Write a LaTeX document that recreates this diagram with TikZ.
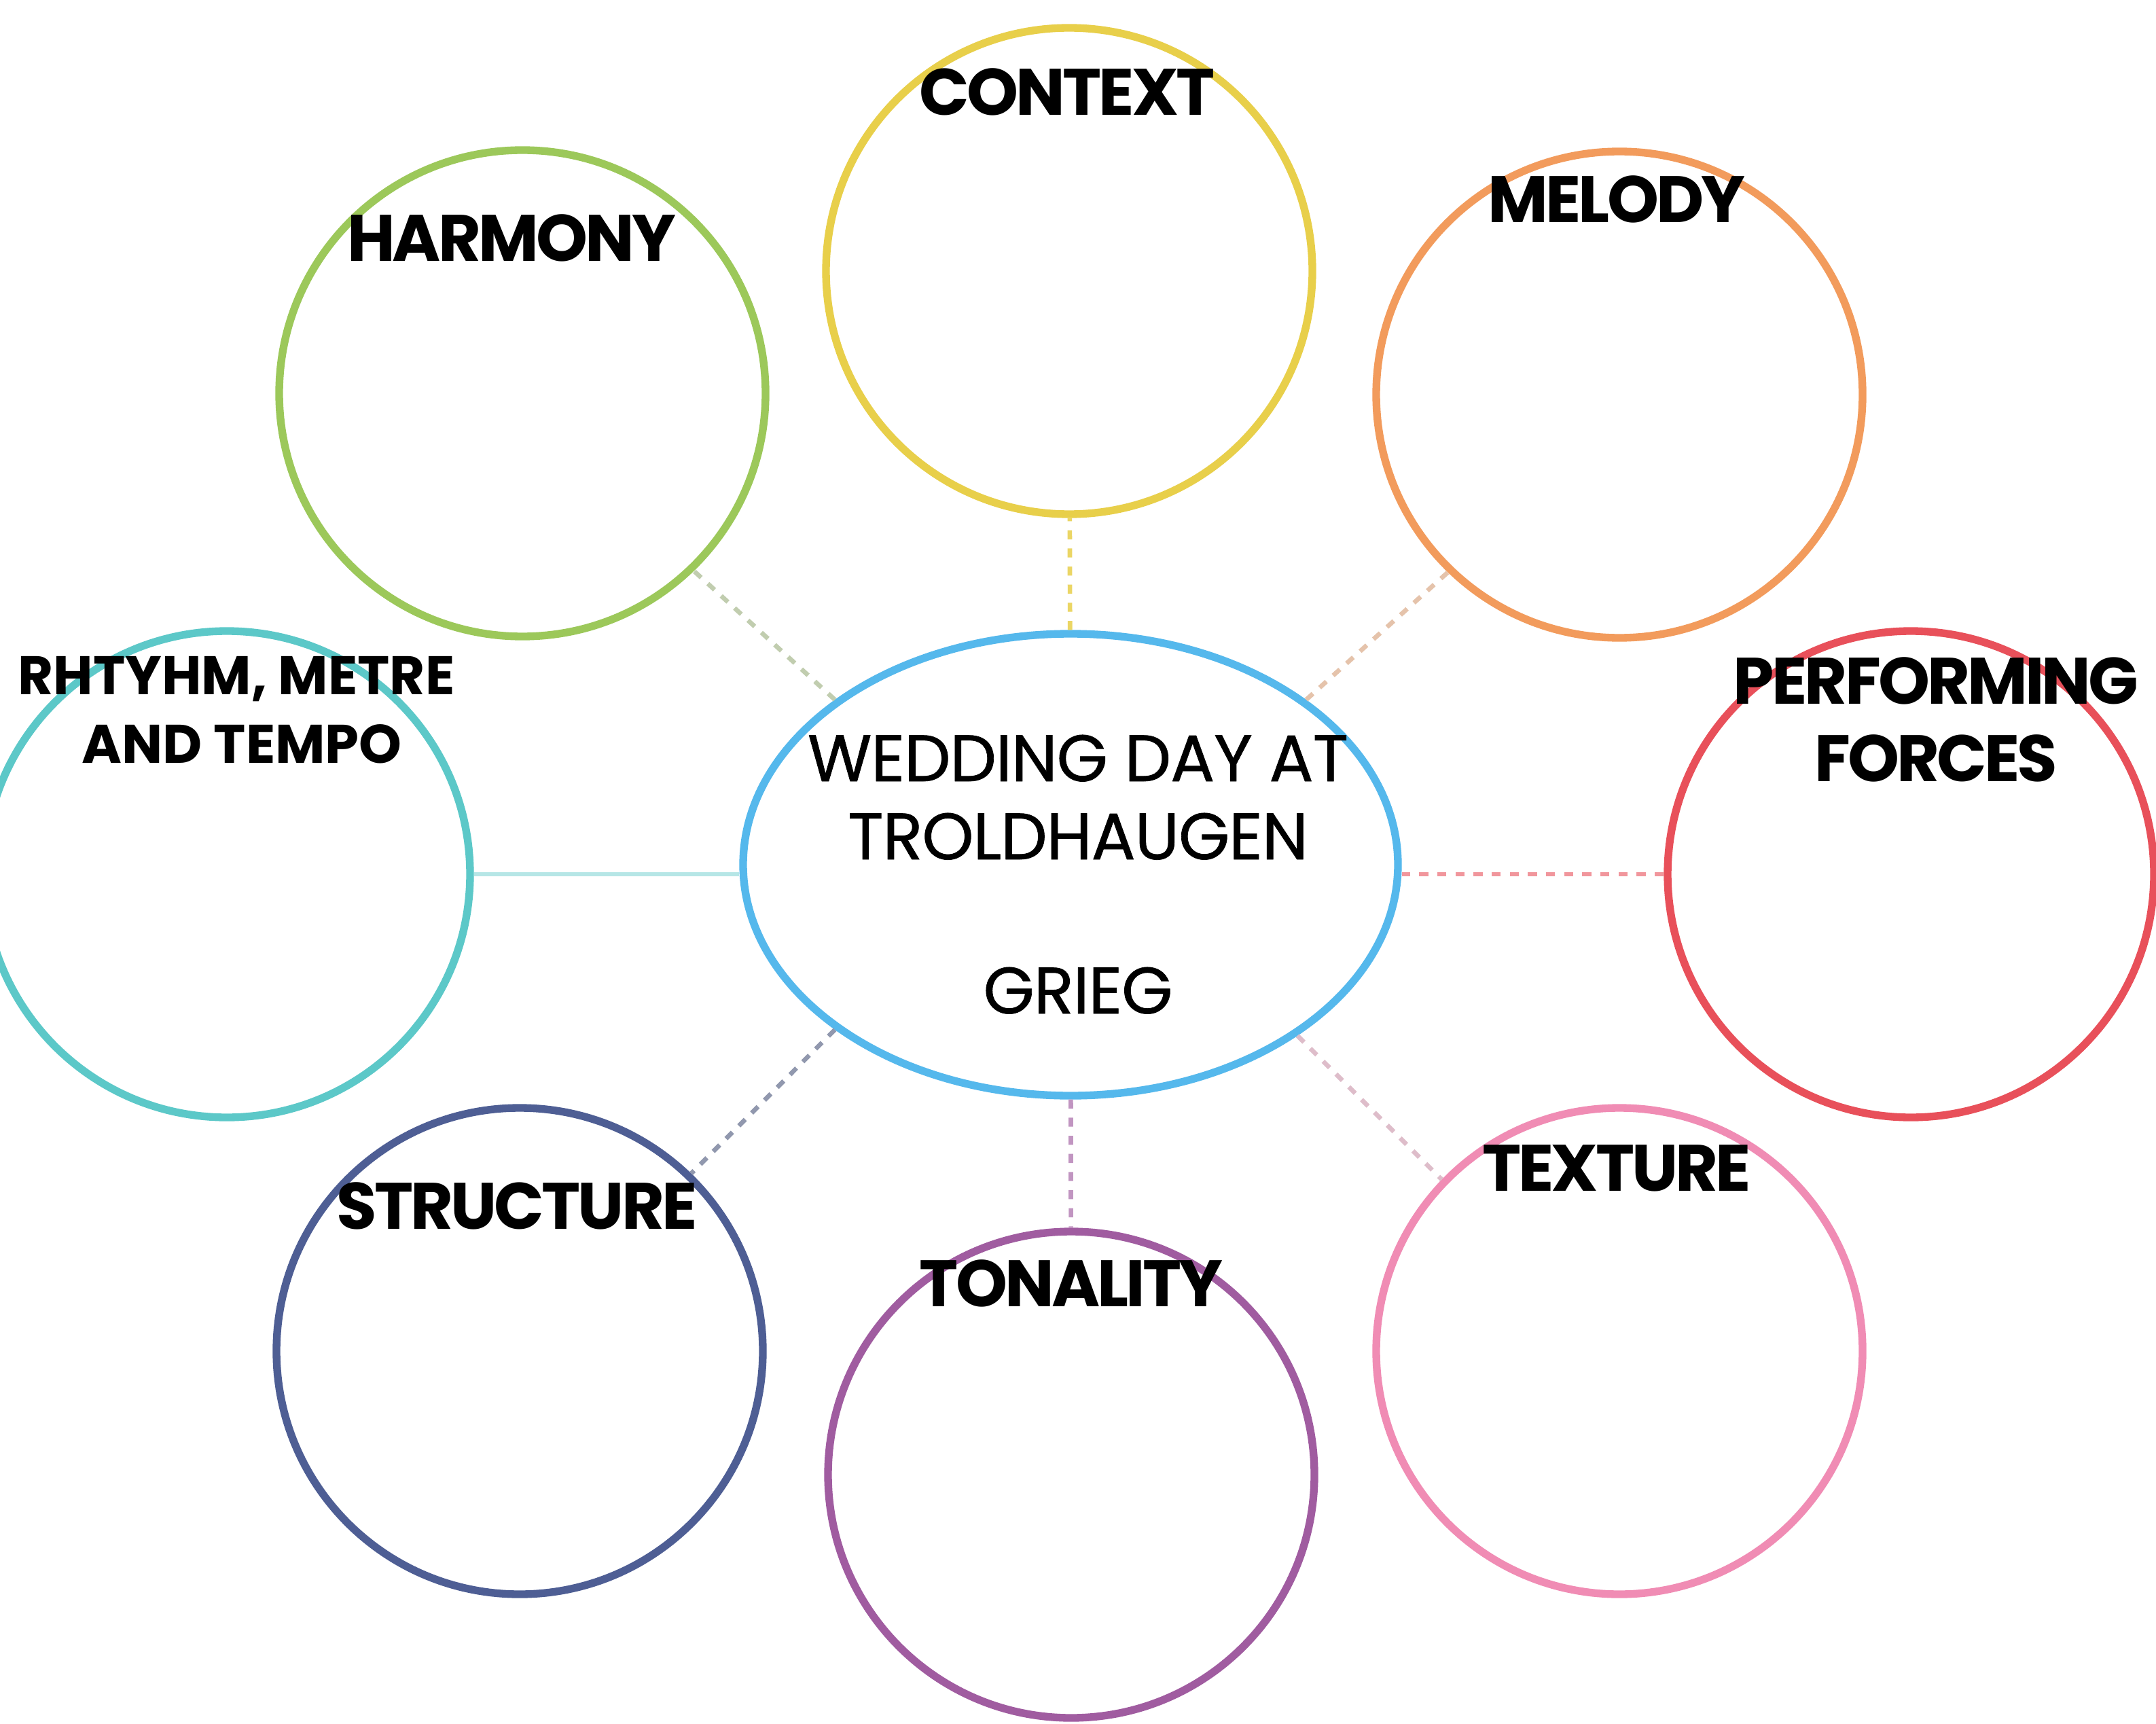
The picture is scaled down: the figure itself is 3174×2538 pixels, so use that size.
\documentclass[tikz,border=0pt]{standalone}
\usepackage{fontspec}
\setmainfont{Poppins}
\newfontfamily\lblfont{Poppins}[LetterSpace=-4]
\newfontfamily\smfont{Poppins}[LetterSpace=0]
\newfontfamily\midfont{Poppins}[LetterSpace=-1,FakeBold=0.8]
\usetikzlibrary{shapes.geometric}
\definecolor{cblue}{HTML}{55B8EC}
\definecolor{cyellow}{HTML}{E8CF4A}
\definecolor{cgreen}{HTML}{9CC85A}
\definecolor{corange}{HTML}{F29B5C}
\definecolor{cteal}{HTML}{5CC8C8}
\definecolor{cred}{HTML}{E8505A}
\definecolor{cnavy}{HTML}{4E5E94}
\definecolor{cpurple}{HTML}{A05CA0}
\definecolor{cpink}{HTML}{F08CB4}
\begin{document}
\begin{tikzpicture}[x=0.3pt,y=-0.3pt,
  bubble/.style={circle, draw=#1, line width=3.4pt, minimum size=214.8pt, inner sep=0pt},
  hub/.style={ellipse, draw=cblue, line width=3.4pt, minimum width=289.2pt, minimum height=204pt, inner sep=0pt},
  lbl/.style={font=\lblfont\bfseries\fontsize{29}{34}\selectfont, inner sep=0pt, anchor=base, text=black},
  smlbl/.style={font=\smfont\bfseries\fontsize{24}{28}\selectfont, inner sep=0pt, anchor=base, text=black},
  midlbl/.style={font=\midfont\fontsize{29}{34}\selectfont, inner sep=0pt, anchor=base, text=black},
  link/.style={line width=2pt, draw=#1, dash pattern=on 4pt off 4pt},
  solidlink/.style={line width=2pt, draw=#1}]
\useasboundingbox (0,0) rectangle (3174,2538);
\fill[white] (0,0) rectangle (3174,2538);
% bubbles
\node[hub] (hub) at (1576,1273) {};
\node[bubble=cyellow] (context) at (1574,399) {};
\node[bubble=cgreen] (harmony) at (769,579) {};
\node[bubble=corange] (melody) at (2384,581) {};
\node[bubble=cteal] (rhythm) at (334,1287) {};
\node[bubble=cred] (forces) at (2813,1287) {};
\node[bubble=cnavy] (structure) at (765,1989) {};
\node[bubble=cpurple] (tonality) at (1577,2171) {};
\node[bubble=cpink] (texture) at (2384,1989) {};
% connectors
\draw[link=cyellow!85] (hub) -- (context);
\draw[link=cgreen!50!gray!55] (hub.145) -- (harmony.-46);
\draw[link=corange!70!gray!55] (hub.35) -- (melody.226);
\draw[solidlink=cteal!45] (rhythm.east) -- (rhythm.east -| hub.west);
\draw[link=cred!60] (forces.west) -- (forces.west -| hub.east);
\draw[link=cnavy!60!gray!70] (hub.215) -- (structure.46);
\draw[link=cpurple!65] (hub) -- (tonality);
\draw[link=cpink!60!gray!55] (hub.323) -- (texture.136);
% labels
\node[lbl] (tcontext) at (1571,170) {CONTEXT};
\node[lbl] (tharmony) at (753,385) {HARMONY};
\node[lbl] (tmelody) at (2380,328) {MELODY};
\node[smlbl] (trhythma) at (348,1022) {RHTYHM, METRE};
\node[smlbl] (trhythmb) at (356,1123) {AND TEMPO};
\node[lbl] (tforcesa) at (2850,1036) {PERFORMING};
\node[lbl] (tforcesb) at (2850,1150) {FORCES};
\node[lbl] (tstructure) at (761,1809) {STRUCTURE};
\node[lbl] (ttonality) at (1577,1923) {TONALITY};
\node[lbl] (ttexture) at (2380,1753) {TEXTURE};
\node[midlbl] (ttitlea) at (1587,1150) {WEDDING DAY AT};
\node[midlbl] (ttitleb) at (1587,1265) {TROLDHAUGEN};
\node[midlbl] (tcomposer) at (1587,1492) {GRIEG};
\end{tikzpicture}
\end{document}
